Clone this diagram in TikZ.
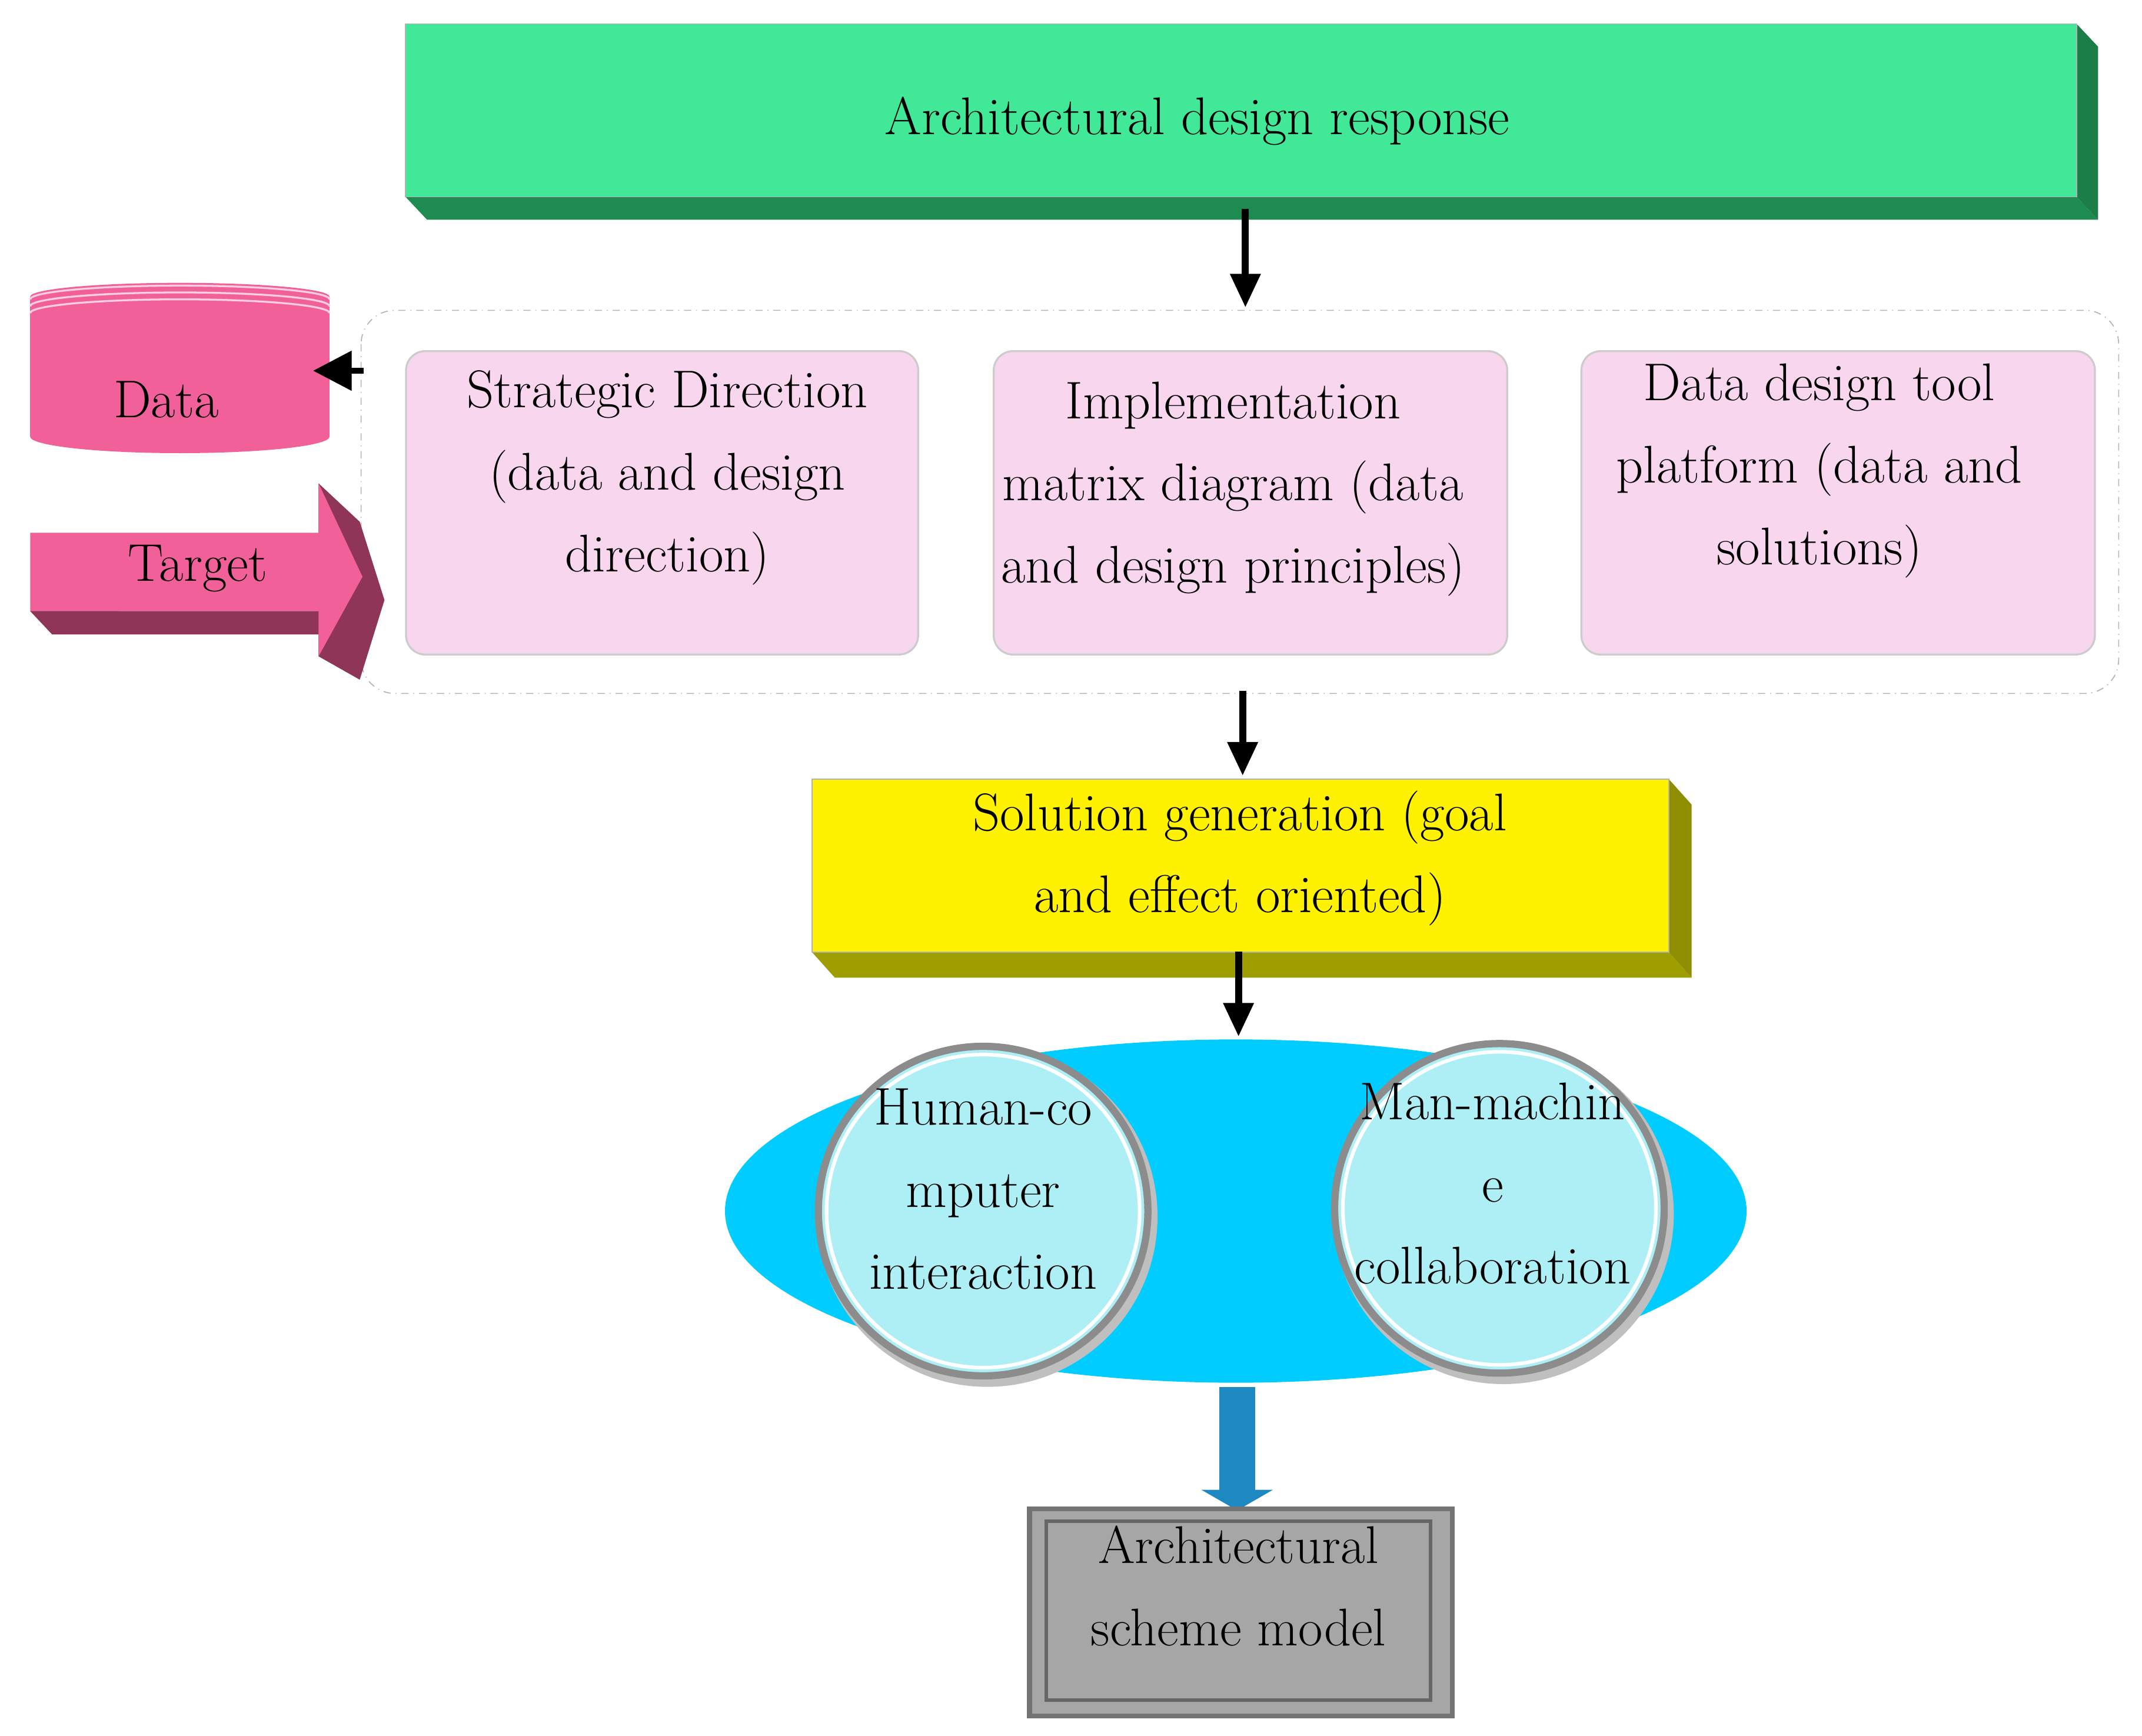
\documentclass[tikz,border=0pt]{standalone}
\usetikzlibrary{arrows.meta}
\definecolor{gfront}{HTML}{40E898}
\definecolor{gside}{HTML}{1E8C50}
\definecolor{pinkc}{HTML}{F2609A}
\definecolor{pinkd}{HTML}{8E3558}
\definecolor{pbox}{HTML}{F8D7EE}
\definecolor{cyanell}{HTML}{00CCFF}
\definecolor{circ}{HTML}{AEEEF5}
\definecolor{olive}{HTML}{9E9E00}
\definecolor{bluearr}{HTML}{1E88C0}
\begin{document}
\begin{tikzpicture}[x=0.02cm,y=-0.02cm,
  txt/.style={font=\fontsize{22}{34}\selectfont,align=center,text=black},
  pinkbox/.style={draw=black!20,fill=pbox,rounded corners=8pt,line width=0.8pt},
  arr/.style={-{Triangle[length=14pt,width=12pt]},line width=3pt}]
\useasboundingbox (0,0) rectangle (1560,1264);
% green box
\fill[gside] (295,143)--(1512,143)--(1528,160)--(311,160)--cycle;
\fill[gside!90!black] (1512,17)--(1528,34)--(1528,160)--(1512,143)--cycle;
\node[fill=gfront,draw=black!30,minimum width=1217*0.02cm,minimum height=126*0.02cm,anchor=north west,inner sep=0] (top) at (295,17) {};
\node[txt] at (872,88) {Architectural design response};
\coordinate (t1) at (907,152); \coordinate (t2) at (907,224);
\draw[arr] (t1)--(t2);
% dashed group
\draw[black!30,dash dot,rounded corners=14pt] (263,226) rectangle (1543,505);
\node[pinkbox,minimum width=373*0.02cm,minimum height=221*0.02cm,anchor=north west] (p1) at (295,255) {};
\node[pinkbox,minimum width=374*0.02cm,minimum height=221*0.02cm,anchor=north west] (p2) at (723,255) {};
\node[pinkbox,minimum width=374*0.02cm,minimum height=221*0.02cm,anchor=north west] (p3) at (1151,255) {};
\node[txt] at (486,348) {Strategic Direction\\(data and design\\direction)};
\node[txt] at (898,356) {Implementation\\matrix diagram (data\\and design principles)};
\node[txt] at (1325,343) {Data design tool\\platform (data and\\solutions)};
% data cylinder
\fill[pinkc] (22,216) rectangle (240,318);
\fill[pinkc] (131,318) ellipse (109 and 12);
\fill[pinkc] (131,216) ellipse (109 and 10);
\foreach \d in {0,5,10} \draw[white!70!pinkc,line width=0.8pt] (22,218+\d) arc[start angle=180,end angle=360,x radius=109,y radius=10];
\node[txt] (data) at (121,291) {Data};
\coordinate (dA) at (265,270); \coordinate (dB) at (228,270);
\draw[-{Triangle[length=16pt,width=16pt]},line width=2.5pt] (dA)--(dB);
% target arrow
\fill[pinkd] (22,445)--(232,445)--(232,478)--(262,495)--(280,437)--(262,380)--(232,352)--(232,395)--(38,462)--(22,445)--cycle;
\fill[pinkd] (22,445)--(38,462)--(248,462)--(248,445)--cycle;
\fill[pinkc] (22,388)--(232,388)--(232,352)--(264,420)--(232,478)--(232,445)--(22,445)--cycle;
\node[txt] (target) at (144,414) {Target};
\coordinate (m1) at (905,503); \coordinate (m2) at (905,565);
\draw[arr] (m1)--(m2);
% yellow box
\fill[olive] (591,693)--(1215,693)--(1232,712)--(608,712)--cycle;
\fill[olive!90!black] (1215,567)--(1232,586)--(1232,712)--(1215,693)--cycle;
\node[fill=yellow,draw=black!30,minimum width=624*0.02cm,minimum height=126*0.02cm,anchor=north west,inner sep=0] (sol) at (591,567) {};
\node[txt] at (903,625) {Solution generation (goal\\and effect oriented)};
\coordinate (s1) at (902,693); \coordinate (s2) at (902,755);
\draw[arr] (s1)--(s2);
% ellipse & circles
\fill[cyanell] (900,882) ellipse (372 and 125);
\foreach \cx/\cy in {716/882,1092/880}{
  \fill[black!25] (\cx+3,\cy+4) circle (124);
  \fill[circ,draw=black!45,line width=3pt] (\cx,\cy) circle (120);
  \draw[white,line width=1.5pt] (\cx,\cy) circle (114);}
\node[txt] (hci) at (716,866) {Human-co\\mputer\\interaction};
\node[txt] (mmc) at (1087,862) {Man-machin\\e\\collaboration};
% blue arrow
\fill[bluearr] (888,1010) rectangle (914,1085);
\fill[bluearr] (875,1085)--(927,1085)--(901,1100)--cycle;
% gray box
\node[fill=black!35,draw=black!55,line width=2pt,minimum width=308*0.02cm,minimum height=151*0.02cm,anchor=north west,inner sep=0] (arch) at (748,1097) {};
\draw[black!60,line width=1.5pt] (762,1108) rectangle (1042,1238);
\node[txt] at (902,1155) {Architectural\\scheme model};
\end{tikzpicture}
\end{document}
